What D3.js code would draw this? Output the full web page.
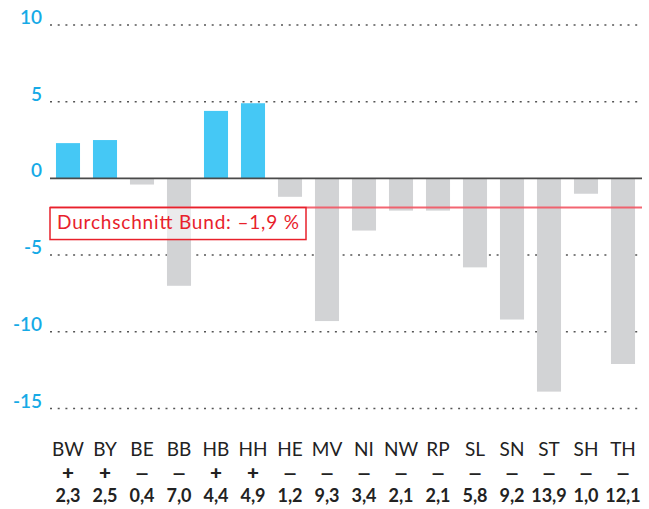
<!DOCTYPE html>
<html>
<head>
<meta charset="utf-8">
<script src="https://cdn.jsdelivr.net/npm/d3@7"></script>
<style>
  body { margin: 0; background: #fff; }
  svg { display: block; font-family: Lato, "Open Sans", sans-serif; }
</style>
</head>
<body>
<div id="chart"></div>
<script>
var states = ["BW","BY","BE","BB","HB","HH","HE","MV","NI","NW","RP","SL","SN","ST","SH","TH"];
var values = [2.3, 2.5, -0.4, -7.0, 4.4, 4.9, -1.2, -9.3, -3.4, -2.1, -2.1, -5.8, -9.2, -13.9, -1.0, -12.1];
var yTicks = [10, 5, 0, -5, -10, -15];
var average = -1.9;
var averageLabel = "Durchschnitt Bund: \u20131,9 %";

var width = 649, height = 509;

var svg = d3.select("#chart").append("svg")
	.attr("width", width)
	.attr("height", height);

var x = d3.scaleBand()
	.domain(states)
	.range([49.5, 641.5])
	.paddingInner(0.35)
	.paddingOuter(0.175);

var y = d3.scaleLinear()
	.domain([-15, 10])
	.range([408.5, 25]);

// grid lines (dotted), zero drawn separately
var grid = svg.append("g");
grid.selectAll("line")
	.data(yTicks.filter(function(d){ return d !== 0; }))
	.enter().append("line")
	.attr("x1", 50)
	.attr("x2", 642)
	.attr("y1", function(d){ return y(d); })
	.attr("y2", function(d){ return y(d); })
	.attr("stroke", "#555")
	.attr("stroke-width", 1.5)
	.attr("stroke-dasharray", "2,5.7");

// y tick labels
svg.append("g").selectAll("text")
	.data(yTicks)
	.enter().append("text")
	.attr("x", 42)
	.attr("y", function(d){ return y(d) - 1; })
	.attr("text-anchor", "end")
	.attr("fill", "#16aae6")
	.style("font-size", "19px")
	.style("font-weight", "600")
	.text(function(d){ return d; });

// bars
svg.append("g").selectAll("rect")
	.data(values)
	.enter().append("rect")
	.attr("x", function(d, i){ return x(states[i]); })
	.attr("width", x.bandwidth())
	.attr("y", function(d){ return y(Math.max(0, d)); })
	.attr("height", function(d){ return Math.abs(y(d) - y(0)); })
	.attr("fill", function(d){ return d >= 0 ? "#45c8f5" : "#d2d3d5"; });

// zero line
svg.append("line")
	.attr("x1", 50)
	.attr("x2", 642)
	.attr("y1", y(0))
	.attr("y2", y(0))
	.attr("stroke", "#4a4a4a")
	.attr("stroke-width", 1.8);

// average line + label box
svg.append("line")
	.attr("x1", 50)
	.attr("x2", 642)
	.attr("y1", y(average))
	.attr("y2", y(average))
	.attr("stroke", "#f25563")
	.attr("stroke-opacity", 0.9)
	.attr("stroke-width", 2);

var avgG = svg.append("g");
var avgBox = avgG.append("rect")
	.attr("fill", "#fff")
	.attr("fill-opacity", 0.55)
	.attr("stroke", "#e8212b")
	.attr("stroke-width", 1.5);
var avgText = avgG.append("text")
	.attr("x", 57)
	.attr("y", y(average) + 21)
	.attr("fill", "#e8212b")
	.style("font-size", "19px")
	.attr("textLength", 242)
	.attr("lengthAdjust", "spacing")
	.text(averageLabel);
avgBox
	.attr("x", 50)
	.attr("y", y(average))
	.attr("width", 256)
	.attr("height", 32);

// category labels: state, sign, absolute value
var labels = svg.append("g").attr("fill", "#222");
labels.selectAll("text.state")
	.data(states)
	.enter().append("text")
	.attr("class", "state")
	.attr("x", function(d){ return x(d) + x.bandwidth() / 2; })
	.attr("y", 456)
	.attr("text-anchor", "middle")
	.style("font-size", "19px")
	.text(function(d){ return d; });

labels.selectAll("text.sign")
	.data(values)
	.enter().append("text")
	.attr("class", "sign")
	.attr("transform", function(d, i){
		var sx = d >= 0 ? 1.15 : 1.5;
		return "translate(" + (x(states[i]) + x.bandwidth() / 2) + ",480) scale(" + sx + ",1)";
	})
	.attr("text-anchor", "middle")
	.style("font-size", "18px")
	.style("font-weight", "900")
	.text(function(d){ return d >= 0 ? "+" : "\u2013"; });

labels.selectAll("text.val")
	.data(values)
	.enter().append("text")
	.attr("class", "val")
	.attr("x", function(d, i){ return x(states[i]) + x.bandwidth() / 2; })
	.attr("y", 502)
	.attr("text-anchor", "middle")
	.style("font-size", "18px")
	.style("font-weight", "bold")
	.text(function(d){ return Math.abs(d).toFixed(1).replace(".", ","); });
</script>
</body>
</html>
